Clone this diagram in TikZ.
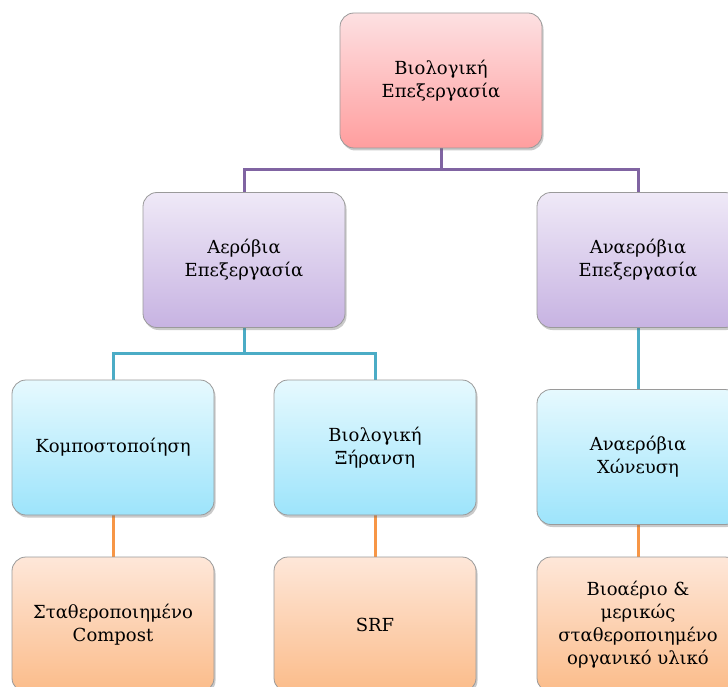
\documentclass[tikz,border=0pt]{standalone}
\usepackage{fontspec}
\setmainfont{DejaVu Serif}
\newfontfamily\grfont{DejaVu Serif}
\usetikzlibrary{shadows,backgrounds}
\definecolor{pinkT}{HTML}{FDE0E2}
\definecolor{pinkB}{HTML}{FF9E9E}
\definecolor{purT}{HTML}{EFE9F7}
\definecolor{purB}{HTML}{C7B3E2}
\definecolor{bluT}{HTML}{E6F9FE}
\definecolor{bluB}{HTML}{9DE4FB}
\definecolor{orgT}{HTML}{FEE7D9}
\definecolor{orgB}{HTML}{FBBC8A}
\definecolor{lnPur}{HTML}{8064A2}
\definecolor{lnTeal}{HTML}{4BACC6}
\definecolor{lnOrg}{HTML}{F79646}
\definecolor{bdr}{HTML}{9A9A9A}
\tikzset{
  box/.style={draw=bdr, line width=0.8pt, rounded corners=14pt,
    minimum width=202pt, minimum height=135pt, align=center,
    font=\grfont\fontsize{18}{23}\selectfont,
    drop shadow={shadow xshift=1.5pt, shadow yshift=-2.5pt, opacity=0.35, fill=black!60}},
  pinkbox/.style={box, top color=pinkT, bottom color=pinkB},
  purbox/.style={box, top color=purT, bottom color=purB},
  blubox/.style={box, top color=bluT, bottom color=bluB},
  orgbox/.style={box, top color=orgT, bottom color=orgB},
  conn/.style={line width=3pt},
}
\begin{document}
\begin{tikzpicture}[x=1pt,y=-1pt]
\useasboundingbox (0,0) rectangle (728,687);
\clip (0,0) rectangle (728,687);
\node[pinkbox] (top) at (441,80.5) {Βιολογική\\Επεξεργασία};
\node[purbox] (aer) at (244,260) {Αερόβια\\Επεξεργασία};
\node[purbox] (ana) at (638,260) {Αναερόβια\\Επεξεργασία};
\node[blubox] (komp) at (113,447.5) {Κομποστοποίηση};
\node[blubox] (xir) at (375,447.5) {Βιολογική\\Ξήρανση};
\node[blubox] (xon) at (638,457) {Αναερόβια\\Χώνευση};
\node[orgbox] (comp) at (113,624.5) {Σταθεροποιημένο\\Compost};
\node[orgbox] (srf) at (375,624.5) {SRF};
\node[orgbox] (bio) at (638,624.5) {Βιοαέριο \&\\μερικώς\\σταθεροποιημένο\\οργανικό υλικό};
\coordinate (j1) at (441,170);
\coordinate (j2) at (244,353);
\begin{scope}[on background layer]
\draw[conn, lnPur] (top.south) -- (j1) -| (aer.north);
\draw[conn, lnPur] (j1) -| (ana.north);
\draw[conn, lnTeal] (aer.south) -- (j2) -| (komp.north);
\draw[conn, lnTeal] (j2) -| (xir.north);
\draw[conn, lnTeal] (ana.south) -- (xon.north);
\draw[conn, lnOrg] (komp.south) -- (comp.north);
\draw[conn, lnOrg] (xir.south) -- (srf.north);
\draw[conn, lnOrg] (xon.south) -- (bio.north);
\end{scope}
\end{tikzpicture}
\end{document}
